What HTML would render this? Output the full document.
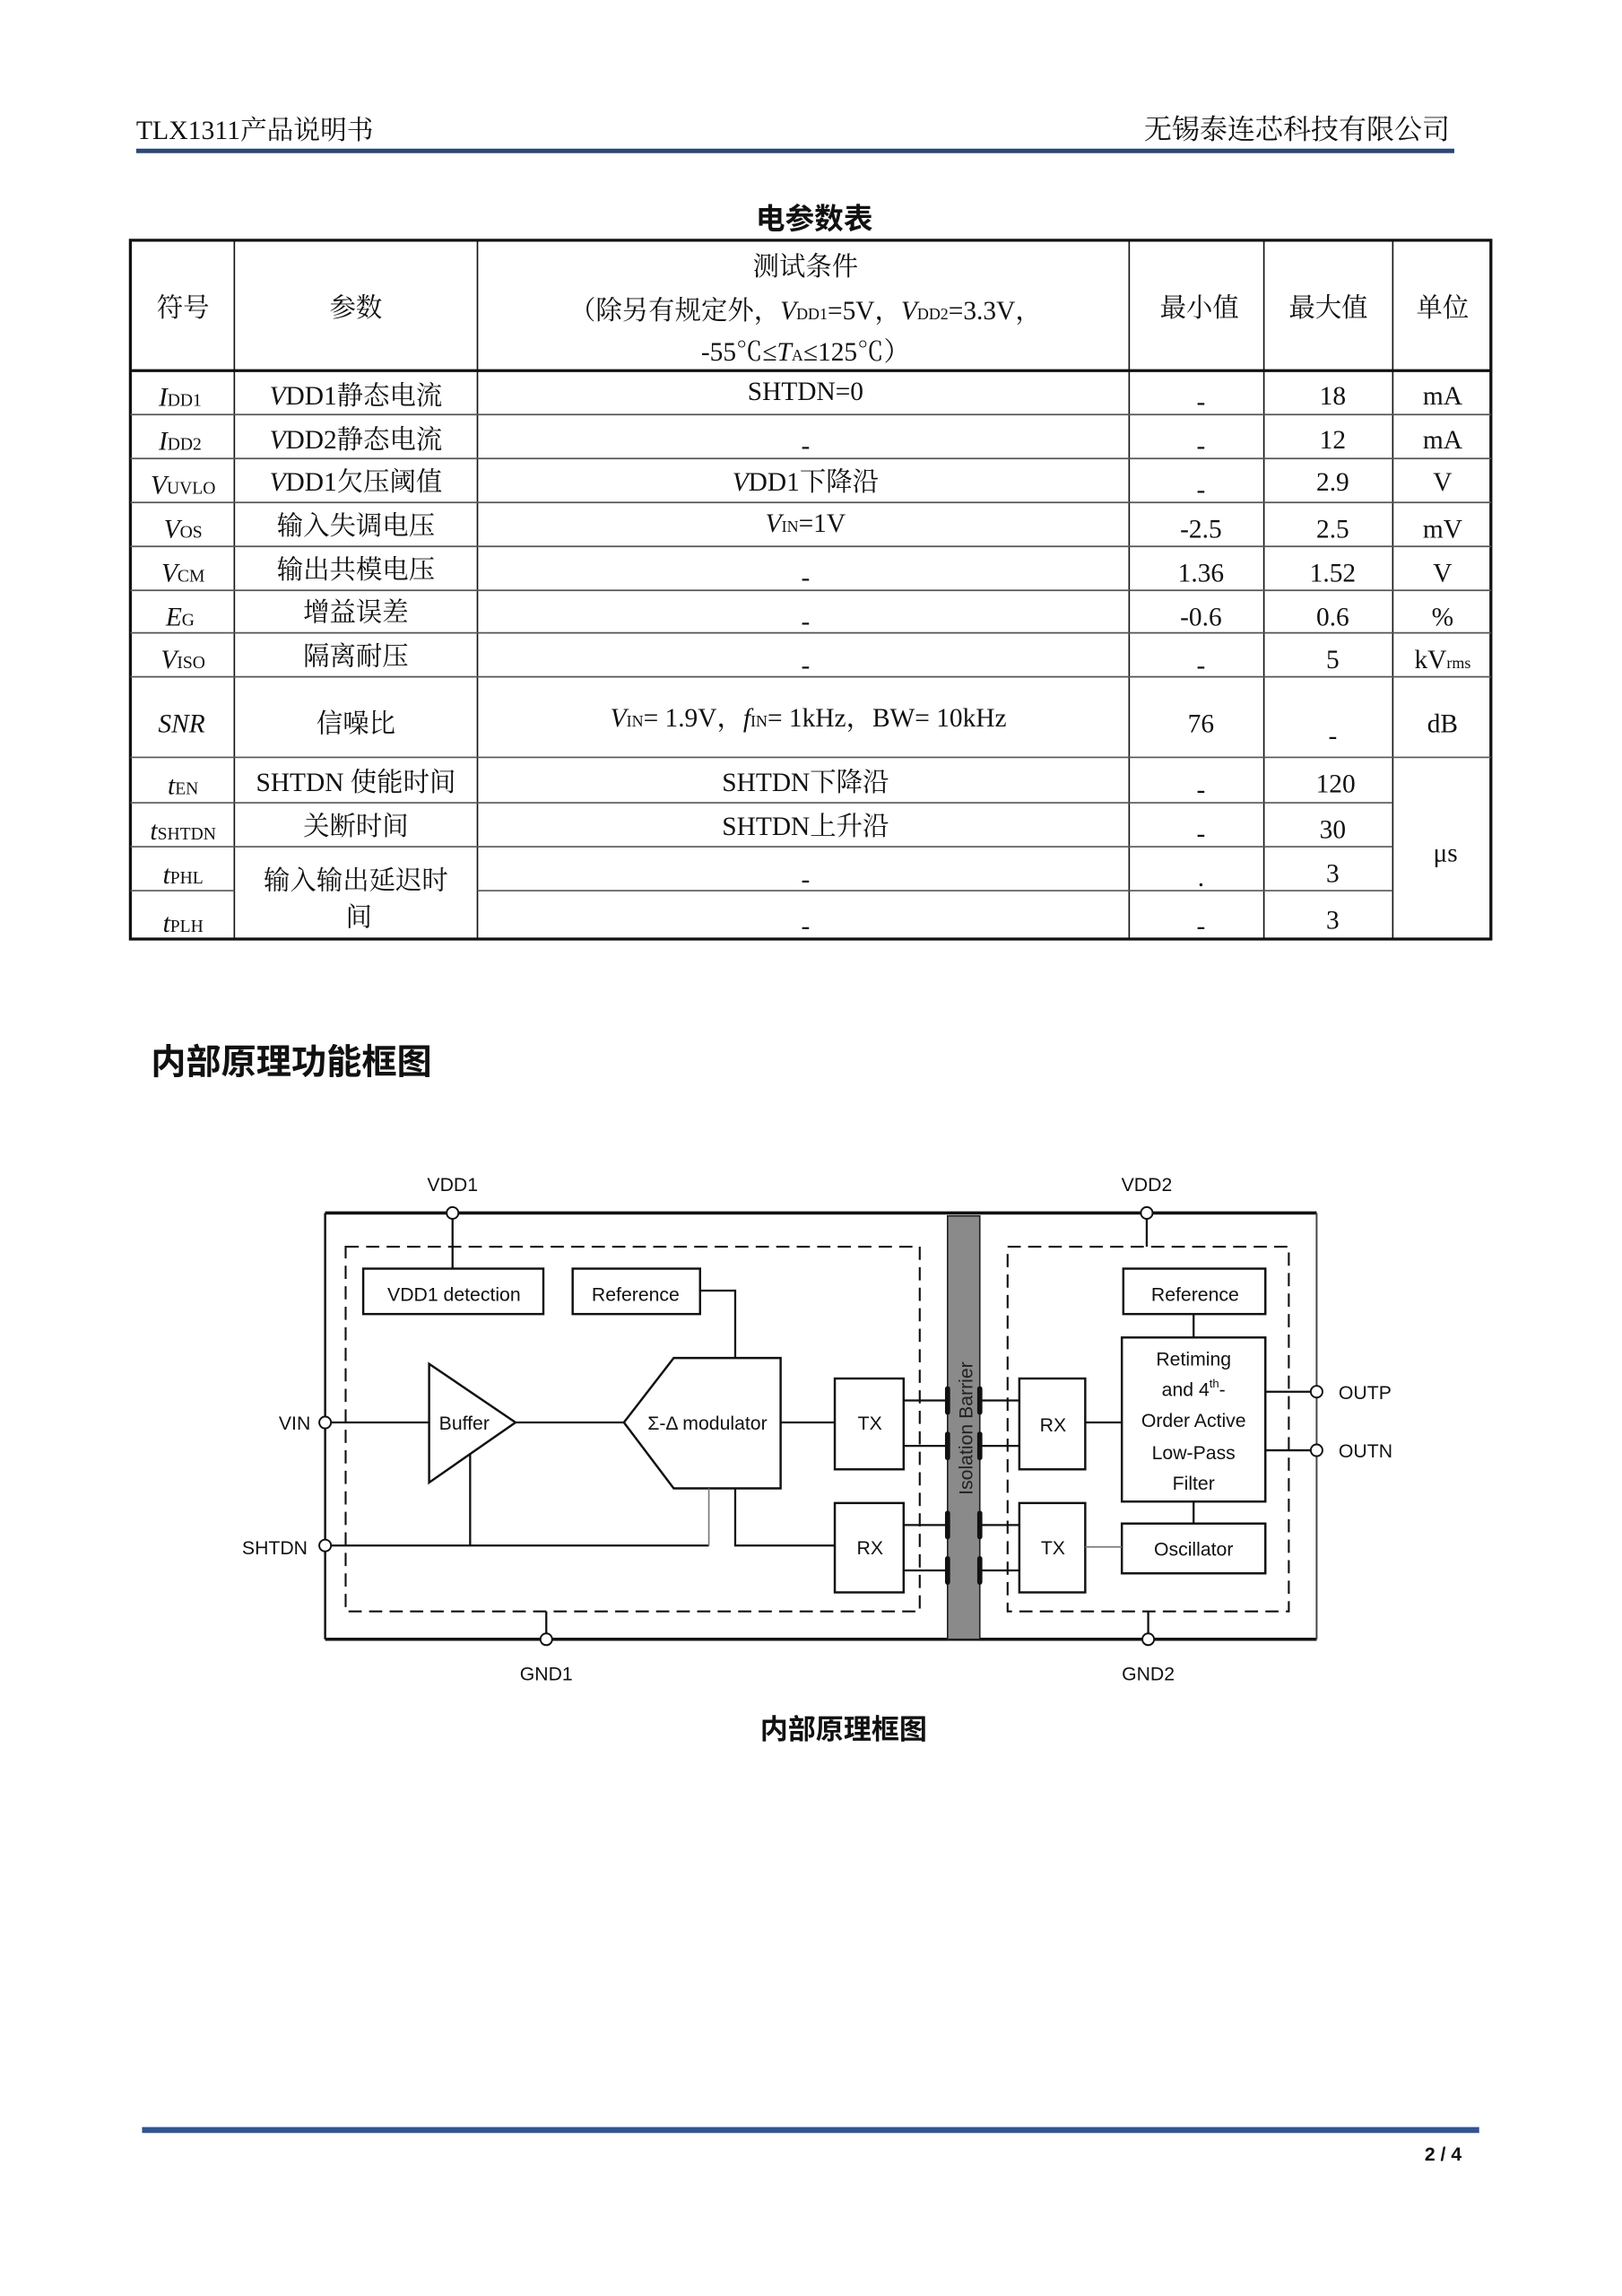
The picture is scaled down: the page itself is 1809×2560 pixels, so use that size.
<!DOCTYPE html>
<html><head><meta charset="utf-8"><style>
html,body{margin:0;padding:0;background:#fff}
svg{display:block}
.s{font-family:"Liberation Serif","Noto Serif CJK SC",serif;fill:#111}
.h{font-family:"Liberation Sans","Noto Sans CJK SC",sans-serif;fill:#111}
.d{font-family:"Liberation Sans","Noto Sans CJK SC",sans-serif;fill:#111}
</style></head><body>
<svg width="1809" height="2560" viewBox="0 0 1107.5 1567.3" xmlns="http://www.w3.org/2000/svg">
<!-- header -->
<text x="93" y="95" class="s" font-size="18" fill="#333" textLength="162" lengthAdjust="spacingAndGlyphs">TLX1311产品说明书</text>
<text x="990" y="95" class="s" font-size="19" text-anchor="end">无锡泰连芯科技有限公司</text>
<line x1="93" y1="103" x2="993" y2="103" stroke="#2a4778" stroke-width="3"/>
<text x="556" y="156" class="h" font-size="20" font-weight="bold" text-anchor="middle">电参数表</text>

<!-- table -->
<g stroke="#111" fill="none">
<rect x="89" y="164" width="929" height="477" stroke-width="2"/>
<line x1="89" y1="253" x2="1018" y2="253" stroke-width="2"/>
<g stroke-width="1">
<line x1="160" y1="164" x2="160" y2="641"/>
<line x1="326" y1="164" x2="326" y2="641"/>
<line x1="771" y1="164" x2="771" y2="641"/>
<line x1="863" y1="164" x2="863" y2="641"/>
<line x1="951" y1="164" x2="951" y2="641"/>
</g>
<g stroke-width="1" stroke="#555">
<line x1="89" y1="283" x2="1018" y2="283"/>
<line x1="89" y1="313" x2="1018" y2="313"/>
<line x1="89" y1="343" x2="1018" y2="343"/>
<line x1="89" y1="373" x2="1018" y2="373"/>
<line x1="89" y1="403" x2="1018" y2="403"/>
<line x1="89" y1="432" x2="1018" y2="432"/>
<line x1="89" y1="462" x2="1018" y2="462"/>
<line x1="89" y1="517" x2="1018" y2="517"/>
<line x1="89" y1="548" x2="951" y2="548"/>
<line x1="89" y1="578" x2="951" y2="578"/>
<line x1="89" y1="608" x2="160" y2="608"/>
<line x1="326" y1="608" x2="951" y2="608"/>
</g>
</g>
<g class="s" font-size="18" text-anchor="middle">
<text x="125" y="216">符号</text>
<text x="243" y="216">参数</text>
<text x="550" y="188">测试条件</text>
<text x="550" y="218">（除另有规定外，<tspan font-style="italic">V</tspan><tspan font-size="11">DD1</tspan>=5V，<tspan font-style="italic">V</tspan><tspan font-size="11">DD2</tspan>=3.3V，</text>
<text x="550" y="246">-55℃≤<tspan font-style="italic">T</tspan><tspan font-size="11">A</tspan>≤125℃）</text>
<text x="819" y="216">最小值</text>
<text x="907" y="216">最大值</text>
<text x="985" y="216">单位</text>

<text x="123" y="277"><tspan font-style="italic">I</tspan><tspan font-size="12">DD1</tspan></text>
<text x="243" y="276"><tspan font-style="italic">V</tspan>DD1静态电流</text>
<text x="550" y="273">SHTDN=0</text>
<text x="820" y="280">-</text>
<text x="910" y="276">18</text>
<text x="985" y="276">mA</text>

<text x="123" y="307"><tspan font-style="italic">I</tspan><tspan font-size="12">DD2</tspan></text>
<text x="243" y="306"><tspan font-style="italic">V</tspan>DD2静态电流</text>
<text x="550" y="310">-</text>
<text x="820" y="310">-</text>
<text x="910" y="306">12</text>
<text x="985" y="306">mA</text>

<text x="125" y="337"><tspan font-style="italic">V</tspan><tspan font-size="12">UVLO</tspan></text>
<text x="243" y="335"><tspan font-style="italic">V</tspan>DD1欠压阈值</text>
<text x="550" y="335"><tspan font-style="italic">V</tspan>DD1下降沿</text>
<text x="820" y="340">-</text>
<text x="910" y="335">2.9</text>
<text x="985" y="335">V</text>

<text x="125" y="367"><tspan font-style="italic">V</tspan><tspan font-size="12">OS</tspan></text>
<text x="243" y="365">输入失调电压</text>
<text x="550" y="363"><tspan font-style="italic">V</tspan><tspan font-size="11">IN</tspan>=1V</text>
<text x="820" y="367">-2.5</text>
<text x="910" y="367">2.5</text>
<text x="985" y="367">mV</text>

<text x="125" y="397"><tspan font-style="italic">V</tspan><tspan font-size="12">CM</tspan></text>
<text x="243" y="395">输出共模电压</text>
<text x="550" y="400">-</text>
<text x="820" y="397">1.36</text>
<text x="910" y="397">1.52</text>
<text x="985" y="397">V</text>

<text x="123" y="427"><tspan font-style="italic">E</tspan><tspan font-size="12">G</tspan></text>
<text x="243" y="424">增益误差</text>
<text x="550" y="430">-</text>
<text x="820" y="427">-0.6</text>
<text x="910" y="427">0.6</text>
<text x="985" y="427">%</text>

<text x="125" y="456"><tspan font-style="italic">V</tspan><tspan font-size="12">ISO</tspan></text>
<text x="243" y="454">隔离耐压</text>
<text x="550" y="460">-</text>
<text x="820" y="460">-</text>
<text x="910" y="456">5</text>
<text x="985" y="456">kV<tspan font-size="11">rms</tspan></text>

<text x="124" y="500" font-style="italic">SNR</text>
<text x="243" y="500">信噪比</text>
<text x="552" y="496"><tspan font-style="italic">V</tspan><tspan font-size="11">IN</tspan>= 1.9V，<tspan font-style="italic">f</tspan><tspan font-size="11">IN</tspan>= 1kHz，BW= 10kHz</text>
<text x="820" y="500">76</text>
<text x="910" y="508">-</text>
<text x="985" y="500">dB</text>

<text x="125" y="542"><tspan font-style="italic">t</tspan><tspan font-size="12">EN</tspan></text>
<text x="243" y="540">SHTDN 使能时间</text>
<text x="550" y="540">SHTDN下降沿</text>
<text x="820" y="545">-</text>
<text x="912" y="541">120</text>
<text x="987" y="588">μs</text>

<text x="125" y="573"><tspan font-style="italic">t</tspan><tspan font-size="12">SHTDN</tspan></text>
<text x="243" y="570">关断时间</text>
<text x="550" y="570">SHTDN上升沿</text>
<text x="820" y="575">-</text>
<text x="910" y="572">30</text>

<text x="125" y="603"><tspan font-style="italic">t</tspan><tspan font-size="12">PHL</tspan></text>
<text x="243" y="607">输入输出延迟时</text>
<text x="245" y="632">间</text>
<text x="550" y="606">-</text>
<text x="820" y="605">.</text>
<text x="910" y="602">3</text>

<text x="125" y="636"><tspan font-style="italic">t</tspan><tspan font-size="12">PLH</tspan></text>
<text x="550" y="638">-</text>
<text x="820" y="638">-</text>
<text x="910" y="634">3</text>
</g>

<text x="103" y="733" class="h" font-size="24" font-weight="bold">内部原理功能框图</text>

<!-- diagram -->
<g class="d">
<g stroke="#111" fill="none">
<line x1="222" y1="828" x2="899" y2="828" stroke-width="2.2"/>
<line x1="222" y1="1119" x2="899" y2="1119" stroke-width="2.2"/>
<line x1="222" y1="828" x2="222" y2="1119" stroke-width="1.5"/>
<line x1="899" y1="828" x2="899" y2="1119" stroke-width="1.2" stroke="#444"/>
<rect x="236" y="851" width="392" height="249" stroke-width="1.3" stroke-dasharray="9,5"/>
<rect x="688" y="851" width="192" height="249" stroke-width="1.3" stroke-dasharray="9,5"/>
</g>
<rect x="647" y="830" width="22" height="289" fill="#8a8a8a" stroke="#222" stroke-width="1"/>
<text transform="translate(664,975) rotate(-90)" font-size="13" text-anchor="middle" fill="#222">Isolation Barrier</text>

<g stroke="#111" fill="#fff" stroke-width="1.5">
<rect x="248" y="866" width="123" height="31"/>
<rect x="391" y="866" width="87" height="31"/>
<polygon points="293,931 293,1012 352,971"/>
<polygon points="460,927 533,927 533,1016 460,1016 426,971"/>
<rect x="570" y="941" width="47" height="62"/>
<rect x="570" y="1026" width="47" height="61"/>
<rect x="696" y="941" width="45" height="62"/>
<rect x="696" y="1026" width="45" height="61"/>
<rect x="767" y="866" width="97" height="31"/>
<rect x="766" y="913" width="98" height="112"/>
<rect x="766" y="1040" width="98" height="34"/>
</g>
<g stroke="#111" fill="none" stroke-width="1.4">
<line x1="309" y1="832" x2="309" y2="866"/>
<polyline points="478,881 502,881 502,927"/>
<line x1="226" y1="971" x2="293" y2="971"/>
<line x1="352" y1="971" x2="426" y2="971"/>
<line x1="533" y1="971" x2="570" y2="971"/>
<line x1="226" y1="1055" x2="484" y2="1055"/>
<line x1="321" y1="992" x2="321" y2="1055"/>
<line x1="484" y1="1016" x2="484" y2="1055" stroke="#777" stroke-width="1"/>
<polyline points="502,1016 502,1055 570,1055"/>
<line x1="617" y1="956" x2="647" y2="956"/>
<line x1="617" y1="987" x2="647" y2="987"/>
<line x1="617" y1="1041" x2="647" y2="1041"/>
<line x1="617" y1="1072" x2="647" y2="1072"/>
<line x1="669" y1="956" x2="696" y2="956"/>
<line x1="669" y1="987" x2="696" y2="987"/>
<line x1="669" y1="1041" x2="696" y2="1041"/>
<line x1="669" y1="1072" x2="696" y2="1072"/>
<line x1="741" y1="971" x2="766" y2="971"/>
<line x1="741" y1="1056" x2="766" y2="1056" stroke="#777" stroke-width="1"/>
<line x1="815" y1="897" x2="815" y2="913"/>
<line x1="815" y1="1025" x2="815" y2="1040"/>
<line x1="864" y1="950" x2="895" y2="950"/>
<line x1="864" y1="990" x2="895" y2="990"/>
<line x1="783" y1="832" x2="783" y2="851"/>
<line x1="373" y1="1100" x2="373" y2="1115"/>
<line x1="784" y1="1100" x2="784" y2="1115"/>
</g>
<g stroke="#111" stroke-width="3.5" stroke-linecap="round">
<line x1="647" y1="948" x2="647" y2="964"/><line x1="647" y1="979" x2="647" y2="995"/>
<line x1="647" y1="1033" x2="647" y2="1049"/><line x1="647" y1="1064" x2="647" y2="1080"/>
<line x1="669" y1="948" x2="669" y2="964"/><line x1="669" y1="979" x2="669" y2="995"/>
<line x1="669" y1="1033" x2="669" y2="1049"/><line x1="669" y1="1064" x2="669" y2="1080"/>
</g>
<g stroke="#111" fill="#fff" stroke-width="1.2">
<circle cx="309" cy="828" r="4"/><circle cx="783" cy="828" r="4"/>
<circle cx="222" cy="971" r="4"/><circle cx="222" cy="1055" r="4"/>
<circle cx="899" cy="950" r="4"/><circle cx="899" cy="990" r="4"/>
<circle cx="373" cy="1119" r="4"/><circle cx="784" cy="1119" r="4"/>
</g>
<g font-size="13" text-anchor="middle">
<text x="309" y="813">VDD1</text>
<text x="783" y="813">VDD2</text>
<text x="373" y="1147">GND1</text>
<text x="784" y="1147">GND2</text>
<text x="310" y="888">VDD1 detection</text>
<text x="434" y="888">Reference</text>
<text x="816" y="888">Reference</text>
<text x="317" y="976">Buffer</text>
<text x="483" y="976">Σ-Δ modulator</text>
<text x="594" y="976">TX</text>
<text x="594" y="1061">RX</text>
<text x="719" y="977">RX</text>
<text x="719" y="1061">TX</text>
<text x="815" y="932">Retiming</text>
<text x="815" y="953">and 4<tspan font-size="8" dy="-6">th</tspan><tspan dy="6">-</tspan></text>
<text x="815" y="974">Order Active</text>
<text x="815" y="996">Low-Pass</text>
<text x="815" y="1017">Filter</text>
<text x="815" y="1062">Oscillator</text>
</g>
<g font-size="13">
<text x="212" y="976" text-anchor="end">VIN</text>
<text x="210" y="1061" text-anchor="end">SHTDN</text>
<text x="914" y="955">OUTP</text>
<text x="914" y="995">OUTN</text>
</g>
</g>
<text x="576" y="1187" class="h" font-size="19" font-weight="bold" text-anchor="middle">内部原理框图</text>

<!-- footer -->
<line x1="97" y1="1454" x2="1010" y2="1454" stroke="#2f5597" stroke-width="4"/>
<text x="998" y="1475" class="d" font-size="13" font-weight="bold" text-anchor="end">2 / 4</text>
</svg>
</body></html>
